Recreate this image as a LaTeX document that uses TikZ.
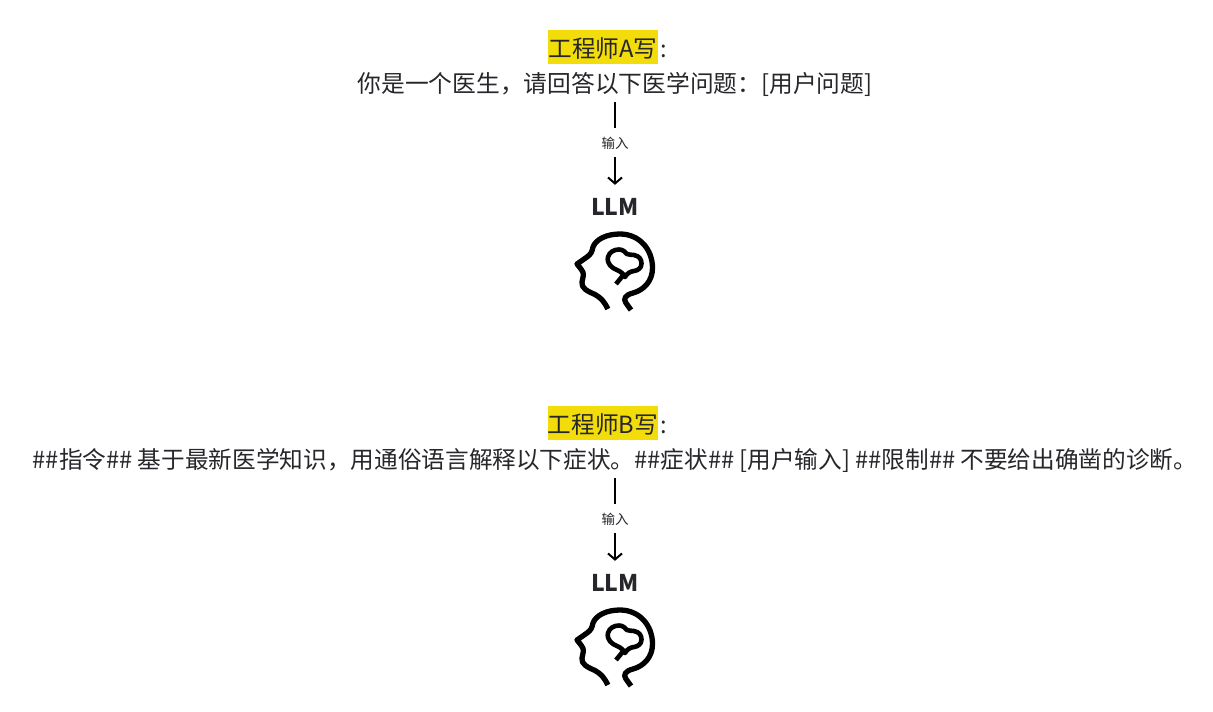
\documentclass[tikz,border=0pt]{standalone}
\usepackage{fontspec}
\usetikzlibrary{arrows.meta}
\setmainfont{Noto Sans CJK SC}
\definecolor{ink}{HTML}{26262B}
\definecolor{hl}{HTML}{F2DC0A}
\tikzset{
  x=1pt,y=-1pt,
  hltext/.style={fill=hl,text=ink,inner sep=0pt,minimum width=110pt,minimum height=34pt,text height=26.5pt,text depth=5.5pt,font=\fontsize{23.65}{25}\selectfont},
  colontext/.style={text=ink,inner sep=0pt,text height=26.5pt,text depth=5.5pt,font=\fontsize{23.65}{25}\selectfont},
  prompt/.style={text=ink,inner sep=0pt,minimum height=36pt,text height=23.5pt,text depth=6.5pt,font=\fontsize{23.65}{25}\selectfont},
  inlabel/.style={text=ink,inner sep=0pt,minimum height=29pt,text height=16pt,text depth=3.7pt,font=\fontsize{13.5}{15}\selectfont},
  llm/.style={text=ink,inner sep=0pt,minimum height=44pt,font=\fontsize{23}{25}\selectfont\bfseries},
  conn/.style={draw=black,line width=2pt},
  barb/.style={conn,-{Straight Barb[length=6pt,width=14pt]}},
  head/.style={draw=black,line width=5.3pt,line join=round,line cap=butt},
  brain/.style={draw=black,line width=4.6pt,line join=round,line cap=butt},
  pics/headicon/.style={code={
    \draw[head] (42.8,84) .. controls (39,76) and (36,73) .. (30,69.5)
      .. controls (22,66) and (16,63) .. (17,57)
      .. controls (18,51) and (20,49) .. (16,44)
      -- (12,39) -- (22,32) .. controls (26,29) and (27,27) .. (28,22)
      .. controls (31,14) and (42,9) .. (55,9)
      .. controls (74,9) and (87.5,24) .. (87.5,43)
      .. controls (87.5,56) and (79,65) .. (68,68)
      .. controls (60,70) and (58,74) .. (61,78) -- (66,85);
    \draw[brain] (51,59) -- (60,48);
    \draw[brain] (43,32) .. controls (44.5,27) and (49,24.5) .. (54,24.5)
      .. controls (58,24.5) and (60,27) .. (62,29)
      .. controls (64,30) and (66,29.5) .. (69,30)
      .. controls (74,31) and (76.5,34) .. (76.5,38.5)
      .. controls (76.5,43) and (73,45.5) .. (69,46)
      .. controls (65,46.5) and (62,48.5) .. (60,52)
      .. controls (58,49) and (56,46.5) .. (52,45)
      .. controls (47,43) and (41.5,39) .. (43,32) -- cycle;
  }}
}
\begin{document}
\begin{tikzpicture}
\useasboundingbox (0,0) rectangle (1213,712);
% upper block
\node[hltext] (ha) at (603,47) {工程师A写};
\node[colontext,anchor=west] (ca) at ([xshift=2pt]ha.east) {:};
\node[prompt,font=\fontsize{23.75}{25}\selectfont] (pa) at (615,84) {你是一个医生，请回答以下医学问题：[用户问题]};
\node[inlabel] (la) at (615,142.5) {输入};
\node[llm] (ma) at (615,207) {LLM};
\draw[conn] (pa.south -| la.north) -- (la.north);
\draw[barb] (la.south) -- (ma.north);
\pic at (565,225) {headicon};
% lower block
\node[hltext] (hb) at (603,423) {工程师B写};
\node[colontext,anchor=west] (cb) at ([xshift=2pt]hb.east) {:};
\node[prompt] (pb) at (615,460) {\#\#指令\#\# 基于最新医学知识，用通俗语言解释以下症状。\#\#症状\#\# [用户输入] \#\#限制\#\# 不要给出确凿的诊断。};
\node[inlabel] (lb) at (615,518.5) {输入};
\node[llm] (mb) at (615,583) {LLM};
\draw[conn] (pb.south -| lb.north) -- (lb.north);
\draw[barb] (lb.south) -- (mb.north);
\pic at (565,601) {headicon};
\end{tikzpicture}
\end{document}
